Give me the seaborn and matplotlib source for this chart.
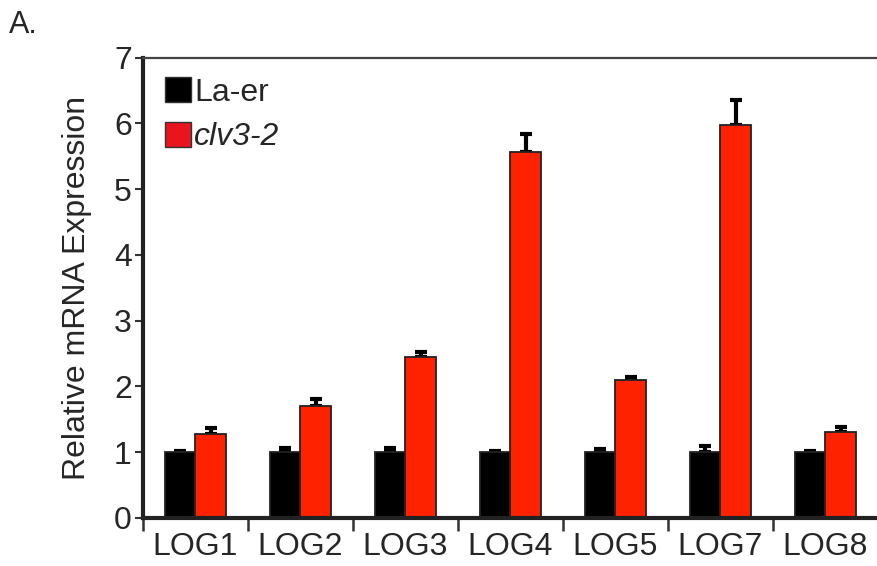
import matplotlib
matplotlib.use("Agg")
import matplotlib.pyplot as plt
from matplotlib.patches import Patch
from matplotlib.ticker import FixedLocator
import numpy as np
import pandas as pd
import seaborn as sns

genes = ["LOG1", "LOG2", "LOG3", "LOG4", "LOG5", "LOG7", "LOG8"]
genotypes = ["La-er", "clv3-2"]
laer_mean = [1.00, 1.00, 1.00, 1.00, 1.00, 1.00, 1.00]
laer_err = [0.02, 0.06, 0.07, 0.02, 0.05, 0.09, 0.02]
clv3_mean = [1.28, 1.70, 2.44, 5.57, 2.10, 5.97, 1.31]
clv3_err = [0.08, 0.11, 0.08, 0.27, 0.05, 0.39, 0.07]
y_ticks = [0, 1, 2, 3, 4, 5, 6, 7]

bar_colors = {"La-er": "#000000", "clv3-2": "#FF2200"}

sns.set_theme(style="white")
plt.rcParams["font.family"] = ["Liberation Sans", "DejaVu Sans"]

df = pd.DataFrame({
    "gene": genes * 2,
    "genotype": [genotypes[0]] * len(genes) + [genotypes[1]] * len(genes),
    "value": laer_mean + clv3_mean,
})

fig = plt.figure(figsize=(8.77, 5.66), dpi=100)
ax = fig.add_axes([0.163, 0.085, 0.838, 0.813])

sns.barplot(data=df, x="gene", y="value", hue="genotype", order=genes,
            hue_order=genotypes, palette=bar_colors, errorbar=None,
            width=0.58, edgecolor="#222222", linewidth=1.3, saturation=1,
            legend=False, ax=ax, zorder=2)

# upward-only error bars, drawn behind the bars so the lower cap is hidden
for container, errs in zip(ax.containers, [laer_err, clv3_err]):
    for bar, e in zip(container, errs):
        xc = bar.get_x() + bar.get_width() / 2
        h = bar.get_height()
        ax.errorbar(xc, h, yerr=[[0], [e]], fmt="none", ecolor="black",
                    elinewidth=3, capsize=4.5, capthick=3, zorder=1)

ax.set_ylim(0, 7)
ax.set_xlim(-0.5, len(genes) - 0.5)
ax.set_yticks(y_ticks)
ax.set_ylabel("Relative mRNA Expression", fontsize=23, labelpad=16)
ax.set_xlabel("")

ax.tick_params(axis="y", which="major", direction="out", length=6, width=1.5,
               labelsize=23, pad=2, left=True, color="#333333")
ax.tick_params(axis="x", which="major", length=0, labelsize=23, pad=10)
ax.xaxis.set_minor_locator(FixedLocator(np.arange(-0.5, len(genes), 1.0)))
ax.tick_params(axis="x", which="minor", direction="out", length=9, width=1.8,
               bottom=True, color="#333333")

for side in ["left", "bottom"]:
    ax.spines[side].set_linewidth(3)
    ax.spines[side].set_color("#222222")
ax.spines["top"].set_linewidth(1.6)
ax.spines["top"].set_color("#444444")
ax.spines["right"].set_visible(False)

handles = [Patch(facecolor="#000000", edgecolor="#333333", linewidth=1),
           Patch(facecolor="#E8141E", edgecolor="#333333", linewidth=1)]
leg = ax.legend(handles, genotypes, loc="upper left",
                bbox_to_anchor=(0.013, 0.985), frameon=False, fontsize=23,
                handlelength=0.8, handleheight=0.8, handletextpad=0.1,
                labelspacing=0.45, borderaxespad=0)
leg.get_texts()[1].set_fontstyle("italic")

fig.text(0.010, 0.955, "A.", fontsize=22, ha="left", va="center")

fig.savefig("out.png", dpi=100)
